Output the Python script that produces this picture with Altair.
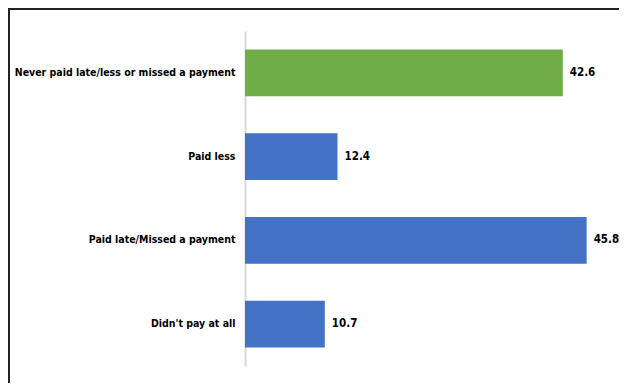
import altair as alt
import pandas as pd

categories = ["Never paid late/less or missed a payment", "Paid less",
              "Paid late/Missed  a payment", "Didn't pay at all"]
values = [42.6, 12.4, 45.8, 10.7]
colors = ["#70AD47", "#4472C4", "#4472C4", "#4472C4"]

df = pd.DataFrame({"category": categories, "value": values, "color": colors})

FONT = "'DejaVu Sans Condensed', Roboto, sans-serif"

y_enc = alt.Y("category:N", sort=categories, title=None,
              scale=alt.Scale(paddingInner=0.44, paddingOuter=0.22),
              axis=alt.Axis(domainColor="#d9d9d9", domainWidth=2, ticks=False,
                            labelFont=FONT, labelFontWeight="bold",
                            labelFontSize=10.5, labelColor="#000000",
                            labelPadding=10, labelLimit=400))
x_enc = alt.X("value:Q", scale=alt.Scale(domain=[0, 50]), axis=None)

bars = alt.Chart(df).mark_bar().encode(
    y=y_enc, x=x_enc, color=alt.Color("color:N", scale=None)
)
text = alt.Chart(df).mark_text(
    align="left", dx=7, font=FONT, fontWeight="bold", fontSize=11.5, color="#000000"
).encode(y=alt.Y("category:N", sort=categories), x="value:Q",
         text=alt.Text("value:Q", format=".1f"))

top_border = alt.Chart(df).mark_rule(color="#222222", strokeWidth=2).encode(
    x=alt.value(-237), x2=alt.value(374), y=alt.value(-22))
left_border = alt.Chart(df).mark_rule(color="#222222", strokeWidth=2).encode(
    x=alt.value(-236), y=alt.value(-23), y2=alt.value(352))

chart = alt.layer(bars, text, top_border, left_border).properties(
    width=373, height=335,
    autosize=alt.AutoSizeParams(type="none"),
    padding={"left": 237, "top": 23, "right": 1, "bottom": 17},
).configure_view(stroke=None)

chart.save("out.html", embed_options={"renderer": "svg", "actions": False})
